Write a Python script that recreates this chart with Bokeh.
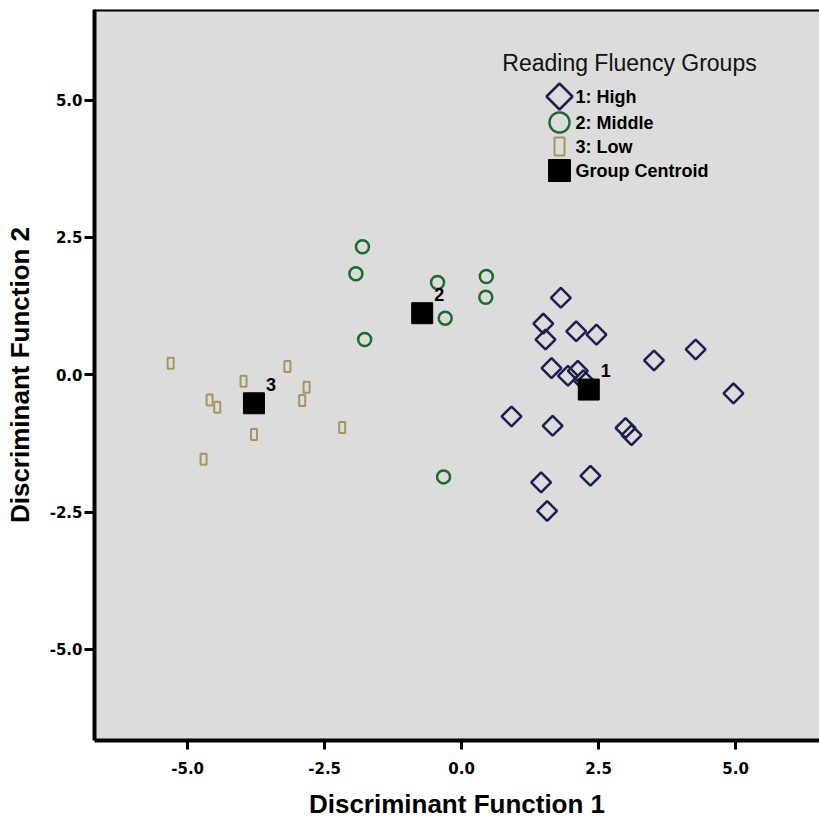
import numpy as np
from bokeh.plotting import figure
from bokeh.models import (Range1d, Span, Label, BoxAnnotation, PolyAnnotation,
                          FixedTicker, NumeralTickFormatter)
from bokeh.core.properties import value
from bokeh.embed import file_html
from bokeh.resources import INLINE

# ---------------- data ----------------
high_f1 = [1.81, 1.49, 1.53, 2.09, 2.46, 3.51, 4.27, 4.96, 1.64, 1.94, 2.12, 2.22,
           0.91, 1.66, 2.99, 3.10, 2.35, 1.45, 1.56]
high_f2 = [1.40, 0.93, 0.64, 0.79, 0.73, 0.26, 0.46, -0.34, 0.12, -0.02, 0.07, -0.10,
           -0.76, -0.93, -0.97, -1.10, -1.84, -1.96, -2.48]

mid_f1 = [-1.81, -1.93, -1.77, -0.44, 0.45, 0.44, -0.30, -0.33]
mid_f2 = [2.33, 1.84, 0.64, 1.68, 1.79, 1.41, 1.03, -1.86]

low_f1 = [-5.31, -3.98, -3.18, -4.60, -4.46, -2.83, -2.91, -3.79, -2.18, -4.71]
low_f2 = [0.21, -0.12, 0.15, -0.46, -0.59, -0.23, -0.47, -1.09, -0.96, -1.54]

centroid_f1 = [2.32, -0.72, -3.79]
centroid_f2 = [-0.27, 1.12, -0.52]
centroid_labels = ["1", "2", "3"]

x_ticks = [-5.0, -2.5, 0.0, 2.5, 5.0]
y_ticks = [-5.0, -2.5, 0.0, 2.5, 5.0]

legend_title = "Reading Fluency Groups"
legend_labels = ["1: High", "2: Middle", "3: Low", "Group Centroid"]
x_label = "Discriminant Function 1"
y_label = "Discriminant Function 2"

# ---------------- style / layout ----------------
W, H = 819, 822
LEFT, TOP, BOTTOM_PX = 94, 9, 740
NAVY = "#1c2050"
GREEN = "#1c6a2e"
OLIVE = "#a3975f"
BG = "#dcdcdc"

p = figure(width=W, height=H,
           x_range=Range1d(-6.70, 6.53), y_range=Range1d(-6.66, 6.65),
           output_backend="svg", toolbar_location=None,
           min_border_left=LEFT, min_border_right=0,
           min_border_top=TOP, min_border_bottom=H - BOTTOM_PX)
p.background_fill_color = BG
p.border_fill_color = "white"
p.outline_line_color = None
p.grid.visible = False

for ax, ticks in ((p.xaxis[0], x_ticks), (p.yaxis[0], y_ticks)):
    ax.ticker = FixedTicker(ticks=ticks)
    ax.formatter = NumeralTickFormatter(format="0.0")
    ax.minor_tick_line_color = None
    ax.major_tick_in = 0
    ax.major_tick_line_width = 3
    ax.major_tick_line_color = "black"
    ax.axis_line_width = 4
    ax.axis_line_color = "black"
    ax.major_label_text_font = "DejaVu Sans"
    ax.major_label_text_font_style = "bold"
    ax.major_label_text_font_size = "15px"
    ax.major_label_text_color = "black"
    ax.axis_label_text_font = "Liberation Sans"
    ax.axis_label_text_font_style = "bold"
    ax.axis_label_text_font_size = "26px"
    ax.axis_label_text_color = "black"

p.xaxis.axis_label = x_label
p.yaxis.axis_label = y_label
p.xaxis.major_tick_out = 9
p.xaxis.major_label_standoff = 12
p.xaxis.axis_label_standoff = 12
p.yaxis.major_tick_out = 10
p.yaxis.major_label_standoff = 2
p.yaxis.axis_label_standoff = 12

# top frame line
p.add_layout(Span(location=p.y_range.end, dimension="width",
                  line_color="black", line_width=4))

# ---------------- points ----------------
p.rect(x=low_f1, y=low_f2, width=6, height=11, width_units="screen",
       height_units="screen", fill_color=None, line_color=OLIVE, line_width=2)
p.scatter(mid_f1, mid_f2, marker="circle", size=13, fill_color=None,
          line_color=GREEN, line_width=2.5)
p.scatter(high_f1, high_f2, marker="square", size=14, angle=np.pi / 4,
          fill_color=None, line_color=NAVY, line_width=2.5)
p.scatter(centroid_f1, centroid_f2, marker="square", size=21,
          fill_color="black", line_color="black")
p.text(x=centroid_f1, y=centroid_f2, text=centroid_labels, x_offset=12, y_offset=-19,
       text_font=value("Liberation Sans"), text_font_style="bold",
       text_font_size="18px", text_color="black",
       text_align="left", text_baseline="middle")

# ---------------- legend (screen units, frame-relative) ----------------
def lx(px):
    return px - LEFT

def ly(py):
    return BOTTOM_PX - py

p.add_layout(Label(x=lx(629), y=ly(62), x_units="screen", y_units="screen",
                   text=legend_title, text_align="center", text_baseline="middle",
                   text_font="Liberation Sans", text_font_size="23px",
                   text_color="#111111"))

item_y = [96, 122, 146, 170]
mx = 559
# diamond
dr = 13
p.add_layout(PolyAnnotation(xs=[lx(mx), lx(mx + dr), lx(mx), lx(mx - dr)],
                            ys=[ly(item_y[0] - dr), ly(item_y[0]), ly(item_y[0] + dr), ly(item_y[0])],
                            xs_units="screen", ys_units="screen",
                            fill_color=None, fill_alpha=0,
                            line_color=NAVY, line_width=2.5, line_alpha=1))
# circle
ang = np.linspace(0, 2 * np.pi, 48, endpoint=False)
cr = 10
p.add_layout(PolyAnnotation(xs=list(lx(mx + cr * np.cos(ang))),
                            ys=list(ly(item_y[1] + cr * np.sin(ang))),
                            xs_units="screen", ys_units="screen",
                            fill_color=None, fill_alpha=0,
                            line_color=GREEN, line_width=2.5, line_alpha=1))
# rectangle
p.add_layout(BoxAnnotation(left=lx(mx - 5), right=lx(mx + 5),
                           top=ly(item_y[2] - 9), bottom=ly(item_y[2] + 9),
                           left_units="screen", right_units="screen",
                           top_units="screen", bottom_units="screen",
                           fill_color=None, line_color=OLIVE, line_width=2, line_alpha=1))
# centroid square
p.add_layout(BoxAnnotation(left=lx(mx - 11), right=lx(mx + 11),
                           top=ly(item_y[3] - 11), bottom=ly(item_y[3] + 11),
                           left_units="screen", right_units="screen",
                           top_units="screen", bottom_units="screen",
                           fill_color="black", fill_alpha=1, line_color="black", line_alpha=1))

for yy, lab in zip(item_y, legend_labels):
    p.add_layout(Label(x=lx(575), y=ly(yy), x_units="screen", y_units="screen",
                       text=lab, text_align="left", text_baseline="middle",
                       text_font="Liberation Sans", text_font_style="bold",
                       text_font_size="18px", text_color="black"))

open("out.html", "w").write(file_html(p, INLINE))
